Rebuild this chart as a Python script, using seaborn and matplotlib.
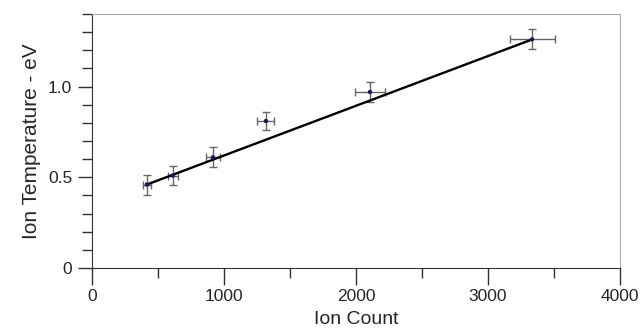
import numpy as np
import pandas as pd
import matplotlib
matplotlib.use('Agg')
import matplotlib.pyplot as plt
import seaborn as sns
from matplotlib.ticker import MultipleLocator

# values
ion_count = [417, 614, 917, 1318, 2106, 3333]
ion_temp = [0.46, 0.51, 0.61, 0.81, 0.97, 1.26]
count_err = [30, 40, 55, 65, 110, 170]
temp_err = [0.055, 0.055, 0.055, 0.05, 0.055, 0.055]

# linear fit shown in the figure
fit_slope = 0.000274
fit_intercept = 0.346

sns.set_style('ticks')
plt.rcParams['font.family'] = ['Liberation Sans', 'DejaVu Sans']

df = pd.DataFrame({'count': ion_count, 'temp': ion_temp})
fit_x = np.array([min(ion_count), max(ion_count)])
fit_df = pd.DataFrame({'count': fit_x, 'temp': fit_slope * fit_x + fit_intercept})

fig = plt.figure(figsize=(6.42, 3.31), dpi=100)
ax = fig.add_axes([0.143, 0.190, 0.823, 0.768])

ax.errorbar(ion_count, ion_temp, xerr=count_err, yerr=temp_err, fmt='none',
            ecolor='#666666', elinewidth=1.0, capsize=3, capthick=1.0, zorder=2)
sns.lineplot(data=fit_df, x='count', y='temp', ax=ax, color='black', linewidth=1.7, zorder=3)
sns.scatterplot(data=df, x='count', y='temp', ax=ax, color='#1a1a5a', s=10,
                edgecolor='none', zorder=4)

ax.set_xlim(0, 4000)
ax.set_ylim(0, 1.4)
ax.set_xticks([0, 1000, 2000, 3000, 4000])
ax.xaxis.set_minor_locator(MultipleLocator(500))
ax.set_yticks([0, 0.5, 1.0])
ax.set_yticklabels(['0', '0.5', '1.0'])
ax.yaxis.set_minor_locator(MultipleLocator(0.1))
ax.tick_params(axis='x', which='major', length=12, width=1, color='#333333',
               labelsize=12.5, pad=3)
ax.tick_params(axis='x', which='minor', length=7, width=1, color='#333333')
ax.tick_params(axis='y', which='major', length=10, width=1, color='#333333',
               labelsize=12.5, pad=4)
ax.tick_params(axis='y', which='minor', length=7, width=1, color='#333333')

for side in ['left', 'bottom']:
    ax.spines[side].set_color('#333333')
for side in ['top', 'right']:
    ax.spines[side].set_color('#aaaaaa')

ax.set_xlabel('Ion Count', fontsize=14, labelpad=5)
ax.set_ylabel('Ion Temperature - eV', fontsize=15, labelpad=5)

fig.savefig('out.png', dpi=100)
